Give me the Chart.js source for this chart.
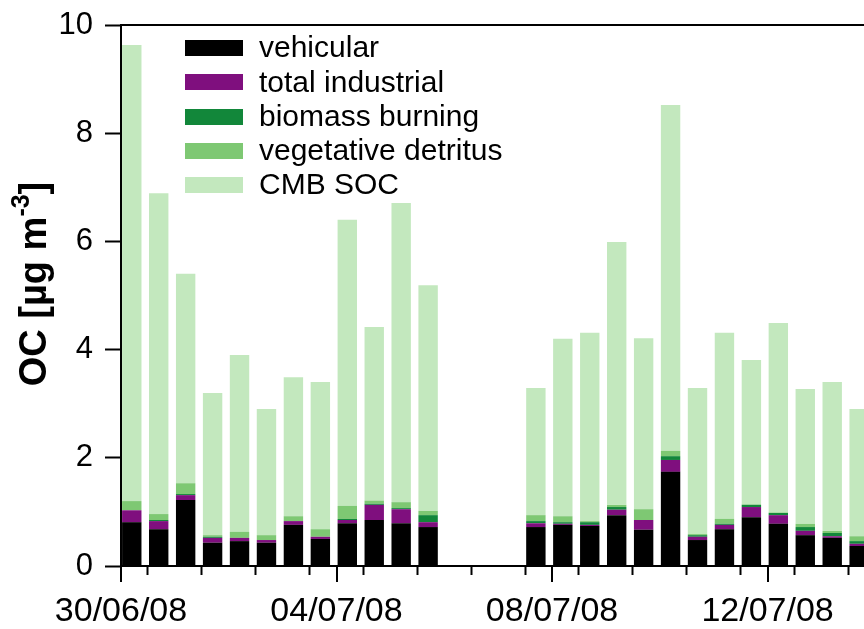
<!DOCTYPE html>
<html>
<head>
<meta charset="utf-8">
<script src="https://cdn.jsdelivr.net/npm/chart.js@4.4.1/dist/chart.umd.min.js"></script>
<style>
  html, body { margin: 0; padding: 0; background: #fff; overflow: hidden; }
  #wrap { width: 864px; height: 629px; }
</style>
</head>
<body>
<div id="wrap"><canvas id="ocChart" width="864" height="629"></canvas></div>
<script>
// sample start, days after 30/06/08 00:00 (12 h samples)
const sampleDay = [0.2, 0.7, 1.2, 1.7, 2.2, 2.7, 3.2, 3.7, 4.2, 4.7, 5.2, 5.7,
                   7.7, 8.2, 8.7, 9.2, 9.7, 10.2, 10.7, 11.2, 11.7, 12.2, 12.7, 13.2, 13.7];

const vehicular  = [0.81, 0.68, 1.22, 0.43, 0.46, 0.43, 0.76, 0.50, 0.79, 0.85, 0.79, 0.72,
                    0.72, 0.76, 0.74, 0.94, 0.67, 1.74, 0.48, 0.68, 0.90, 0.78, 0.57, 0.52, 0.37];
const industrial = [0.22, 0.15, 0.09, 0.09, 0.06, 0.05, 0.07, 0.04, 0.06, 0.28, 0.26, 0.09,
                    0.07, 0.02, 0.02, 0.10, 0.18, 0.22, 0.06, 0.08, 0.19, 0.16, 0.08, 0.03, 0.04];
const biomass    = [0.00, 0.02, 0.02, 0.02, 0.00, 0.00, 0.00, 0.00, 0.02, 0.02, 0.02, 0.13,
                    0.04, 0.03, 0.05, 0.05, 0.00, 0.07, 0.03, 0.02, 0.04, 0.04, 0.07, 0.06, 0.05];
const vegetative = [0.17, 0.11, 0.20, 0.03, 0.11, 0.09, 0.09, 0.14, 0.24, 0.06, 0.11, 0.08,
                    0.11, 0.11, 0.02, 0.04, 0.20, 0.10, 0.02, 0.09, 0.01, 0.01, 0.06, 0.04, 0.09];
const cmbSoc     = [8.43, 5.93, 3.87, 2.63, 3.27, 2.33, 2.57, 2.72, 5.29, 3.21, 5.53, 4.17,
                    2.35, 3.28, 3.48, 4.86, 3.16, 6.39, 2.70, 3.44, 2.67, 3.50, 2.49, 2.75, 2.35];

// major tick labels every 4 days
const dateLabels = { 0: '30/06/08', 4: '04/07/08', 8: '08/07/08', 12: '12/07/08' };

const FONT = "'Liberation Sans', Arial, Helvetica, sans-serif";

const toPoints = arr => arr.map((v, i) => ({ x: sampleDay[i], y: v }));

const series = [
    { label: 'vehicular', data: vehicular, color: '#000000' },
    { label: 'total industrial', data: industrial, color: '#7f0f7e' },
    { label: 'biomass burning', data: biomass, color: '#12873a' },
    { label: 'vegetative detritus', data: vegetative, color: '#7ec873' },
    { label: 'CMB SOC', data: cmbSoc, color: '#c3e8be' }
];

// frame top line, longer major x ticks, legend and y title
const decorPlugin = {
    id: 'decor',
    afterDraw(chart) {
        const { ctx, chartArea, scales } = chart;
        ctx.save();
        ctx.strokeStyle = '#000';
        ctx.lineWidth = 2;

        // top frame
        ctx.beginPath();
        ctx.moveTo(chartArea.left - 1, chartArea.top);
        ctx.lineTo(chartArea.right, chartArea.top);
        ctx.stroke();

        // major ticks
        scales.x.ticks.forEach(t => {
            if (dateLabels[t.value] === undefined) return;
            const px = Math.round(scales.x.getPixelForValue(t.value));
            ctx.beginPath();
            ctx.moveTo(px, chartArea.bottom);
            ctx.lineTo(px, chartArea.bottom + 16);
            ctx.stroke();
        });

        // legend
        ctx.font = '30px ' + FONT;
        ctx.textBaseline = 'middle';
        ctx.textAlign = 'left';
        chart.data.datasets.forEach((ds, i) => {
            const cy = chartArea.top + 23 + i * 34.3;
            ctx.fillStyle = ds.backgroundColor;
            ctx.fillRect(chartArea.left + 64, Math.round(cy - 8), 58, 16);
            ctx.fillStyle = '#000';
            ctx.fillText(ds.label, chartArea.left + 138, cy + 1);
        });

        // y axis title with superscript
        const big = 'bold 38px ' + FONT;
        const small = 'bold 25px ' + FONT;
        const p1 = 'OC [µg m', p2 = '-3', p3 = ']';
        ctx.font = big;
        const w1 = ctx.measureText(p1).width;
        const w3 = ctx.measureText(p3).width;
        ctx.font = small;
        const w2 = ctx.measureText(p2).width;
        const total = w1 + w2 + w3;
        ctx.translate(32, chartArea.top + 259);
        ctx.rotate(-Math.PI / 2);
        ctx.textBaseline = 'alphabetic';
        ctx.fillStyle = '#000';
        let x = -total / 2;
        ctx.font = big;
        ctx.fillText(p1, x, 14);
        x += w1;
        ctx.font = small;
        ctx.fillText(p2, x, -3);
        x += w2;
        ctx.font = big;
        ctx.fillText(p3, x, 14);
        ctx.restore();
    }
};

const ctx = document.getElementById('ocChart').getContext('2d');

new Chart(ctx, {
    type: 'bar',
    data: {
        datasets: series.map(s => ({
            label: s.label,
            data: toPoints(s.data),
            backgroundColor: s.color,
            borderWidth: 0,
            categoryPercentage: 0.8,
            barPercentage: 0.9
        }))
    },
    options: {
        responsive: false,
        animation: false,
        devicePixelRatio: 1,
        layout: { padding: { top: 25, left: 0, right: 0, bottom: 0 } },
        plugins: {
            legend: { display: false },
            tooltip: { enabled: false },
            title: { display: false }
        },
        scales: {
            x: {
                type: 'linear',
                stacked: true,
                offset: false,
                min: 0,
                max: 13.79,
                afterFit: scale => {
                    scale.height = 63;
                    scale.paddingLeft = 0;
                    scale.paddingRight = 0;
                },
                afterBuildTicks: scale => {
                    const t = [];
                    for (let d = 0; d <= 13; d++) t.push({ value: d });
                    scale.ticks = t;
                },
                ticks: {
                    autoSkip: false,
                    maxRotation: 0,
                    padding: 16,
                    color: '#000',
                    font: { family: FONT, size: 34 },
                    callback: v => dateLabels[v] || ''
                },
                grid: {
                    drawOnChartArea: false,
                    drawTicks: true,
                    tickLength: 9,
                    tickWidth: 2,
                    tickColor: '#000'
                },
                border: { color: '#000', width: 2 }
            },
            y: {
                stacked: true,
                min: 0,
                max: 10,
                afterFit: scale => {
                    scale.width = 121;
                    scale.paddingTop = 0;
                    scale.paddingBottom = 0;
                },
                ticks: {
                    stepSize: 2,
                    padding: 12,
                    color: '#000',
                    font: { family: FONT, size: 31 }
                },
                grid: {
                    drawOnChartArea: false,
                    drawTicks: true,
                    tickLength: 16,
                    tickWidth: 2,
                    tickColor: '#000'
                },
                border: { color: '#000', width: 2 }
            }
        }
    },
    plugins: [decorPlugin]
});
</script>
</body>
</html>
